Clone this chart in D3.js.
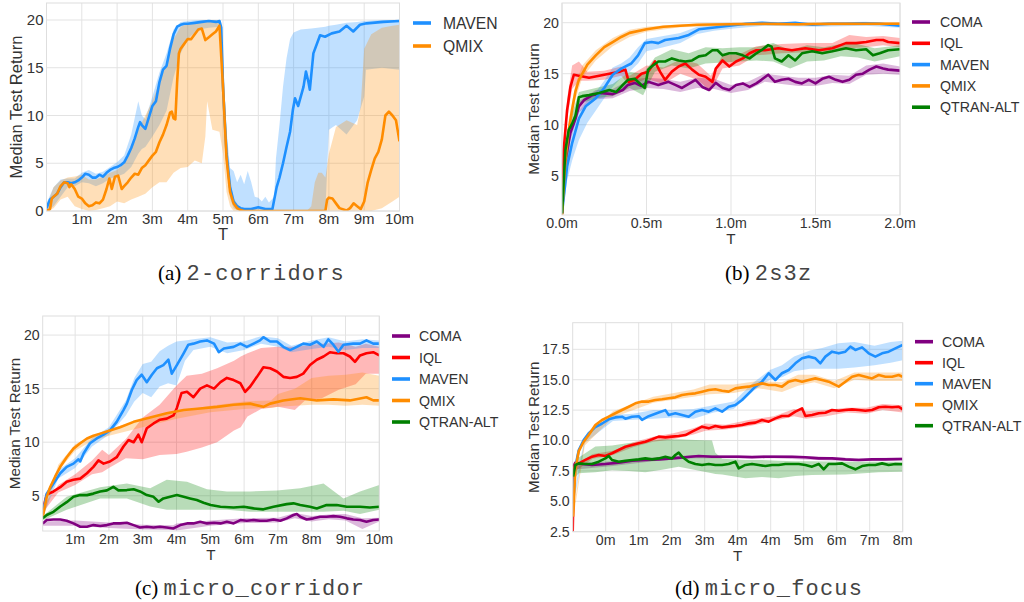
<!DOCTYPE html>
<html>
<head>
<meta charset="utf-8">
<script src="https://cdn.jsdelivr.net/npm/d3@7"></script>
<style>
  body { margin: 0; background: #fff; }
  svg { display: block; }
  text { font-family: "Liberation Sans", Arial, sans-serif; }
</style>
</head>
<body>
<svg width="1024" height="602"></svg>
<script>
// ---- data: [T in millions, median] and bands [T, low, high] ----

// (a) 2-corridors
const corrMaven = [[0,0.3],[0.1,1.2],[0.2,1.5],[0.3,1.8],[0.4,2.5],[0.5,3.0],[0.6,3.0],[0.7,2.9],[0.8,3.0],[0.9,3.2],[1.0,3.5],[1.1,3.9],[1.2,3.8],[1.3,3.5],[1.4,3.5],[1.5,3.8],[1.6,3.6],[1.7,4.0],[1.8,4.3],[1.9,4.5],[2.0,4.6],[2.1,4.8],[2.2,5.1],[2.3,5.8],[2.4,6.6],[2.5,7.6],[2.6,8.8],[2.65,9.3],[2.7,9.0],[2.8,8.6],[2.9,9.8],[3.0,11.0],[3.1,11.5],[3.2,13.5],[3.3,14.8],[3.4,15.2],[3.5,17.0],[3.6,18.5],[3.7,19.3],[3.8,19.5],[3.9,19.6],[4.0,19.6],[4.2,19.7],[4.4,19.8],[4.6,19.9],[4.8,19.8],[4.9,19.9],[4.95,19.2],[5.0,13.0],[5.1,6.0],[5.2,2.5],[5.3,1.0],[5.4,0.5],[5.5,0.3],[5.6,0.2],[5.8,0.2],[6.0,0.4],[6.2,0.2],[6.4,0.2],[6.52,2.5],[6.6,3.5],[6.7,5.0],[6.8,6.7],[6.9,8.3],[6.98,10.6],[7.04,11.8],[7.13,11.0],[7.28,13.0],[7.35,14.6],[7.42,13.5],[7.46,12.7],[7.56,16.5],[7.75,18.4],[7.89,18.25],[8.08,18.6],[8.3,18.8],[8.5,19.4],[8.69,18.8],[8.88,19.5],[9.07,19.65],[9.54,19.8],[10.0,19.9]];
const corrMavenBand = [[0,0,0.8],[0.2,0.5,2.5],[0.4,1.5,3.3],[0.6,2.5,3.4],[0.8,2.6,3.4],[1.0,3.0,4.0],[1.2,2.9,4.3],[1.4,2.6,3.9],[1.6,2.9,4.1],[1.8,3.4,4.6],[2.0,3.6,5.1],[2.2,3.9,5.8],[2.4,4.6,8.0],[2.6,6.0,11.5],[2.7,6.5,10.0],[2.8,6.7,9.6],[3.0,7.8,12.0],[3.2,9.0,14.5],[3.4,10.5,16.5],[3.6,14.0,19.0],[3.8,16.5,19.8],[4.0,18.0,19.9],[4.3,19.0,20.0],[4.6,19.2,20.0],[4.9,19.3,20.0],[5.0,12.5,16.0],[5.1,4.5,8.5],[5.2,1.3,4.5],[5.3,0.3,4.2],[5.4,0.1,3.0],[5.5,0,3.8],[5.6,0,2.8],[5.7,0,4.2],[5.8,0,3.0],[5.9,0,1.5],[6.0,0,1.4],[6.1,0,1.0],[6.2,0,1.5],[6.3,0,0.9],[6.45,0,1.5],[6.5,0,5.5],[6.6,0,9.0],[6.7,0,13.0],[6.8,0,16.0],[6.9,0,18.0],[7.0,0,18.7],[7.2,0,19.0],[7.5,0,19.1],[7.9,0,19.3],[8.0,8.5,19.4],[8.2,9.0,19.5],[8.5,8.0,19.7],[8.8,9.5,19.8],[9.0,12.0,19.9],[9.05,14.8,19.9],[9.5,15.0,20.0],[10.0,14.8,20.0]];
const corrQmix = [[0,0],[0.1,0.2],[0.15,1.3],[0.2,1.5],[0.3,1.8],[0.4,2.6],[0.5,3.0],[0.6,2.9],[0.65,2.5],[0.7,2.8],[0.8,2.3],[0.9,1.5],[1.0,1.3],[1.1,0.8],[1.2,0.5],[1.3,0.6],[1.4,0.9],[1.5,0.8],[1.6,1.2],[1.7,2.3],[1.78,3.4],[1.85,2.3],[1.94,3.6],[2.03,3.7],[2.13,2.3],[2.2,2.6],[2.3,3.0],[2.4,3.5],[2.5,3.9],[2.6,3.8],[2.7,4.5],[2.8,4.8],[2.9,5.3],[3.0,5.8],[3.1,6.2],[3.2,7.2],[3.3,8.0],[3.4,9.0],[3.5,10.3],[3.55,10.4],[3.6,9.7],[3.65,9.6],[3.7,13.5],[3.75,16.5],[3.8,17.0],[3.9,17.5],[4.0,18.0],[4.1,18.0],[4.2,18.5],[4.3,19.0],[4.4,19.1],[4.5,17.9],[4.6,18.2],[4.7,18.5],[4.8,18.8],[4.9,19.4],[5.0,13.0],[5.1,5.5],[5.2,2.0],[5.3,0.8],[5.4,0.3],[5.5,0.1],[5.6,0],[7.9,0],[7.95,1.2],[8.0,1.4],[8.1,1.3],[8.2,0.8],[8.3,0.3],[8.5,0.05],[8.6,0.3],[8.7,0.8],[8.8,0.5],[8.9,0.2],[9.0,1.0],[9.1,3.0],[9.2,4.3],[9.3,5.5],[9.4,6.2],[9.5,7.5],[9.6,10.0],[9.7,10.4],[9.8,10.0],[9.9,9.5],[10.0,7.3]];
const corrQmixBand = [[0,0,0.5],[0.2,0.3,2.5],[0.4,1.2,3.2],[0.6,1.5,3.5],[0.8,0.5,3.6],[1.0,0.2,3.8],[1.2,0,3.3],[1.4,0.1,3.3],[1.6,0.3,3.6],[1.8,0.5,4.0],[2.0,1.0,4.3],[2.2,0.8,5.0],[2.4,1.2,6.5],[2.6,1.5,8.5],[2.8,1.8,10.0],[3.0,2.5,11.5],[3.2,3.0,13.5],[3.4,3.0,15.5],[3.6,4.0,18.0],[3.8,4.5,19.3],[4.0,4.6,19.6],[4.2,5.3,19.8],[4.4,5.0,19.9],[4.5,7.8,20.0],[4.55,11.5,20.0],[4.7,8.5,20.0],[4.9,8.3,19.9],[5.0,6.0,16.5],[5.1,2.0,8.0],[5.2,0.5,3.0],[5.3,0,1.3],[5.5,0,0.3],[6.0,0,0.1],[7.4,0,0.1],[7.5,0,0.5],[7.6,0,3.0],[7.7,0,4.0],[7.8,0,4.0],[7.9,0,3.5],[8.0,0,6.0],[8.2,0,8.8],[8.5,0,9.5],[8.8,0,9.0],[8.9,0,11.0],[9.0,0,17.0],[9.2,0,18.5],[9.5,0.3,19.2],[9.8,1.0,19.4],[10.0,1.5,19.5]];

// (b) 2s3z
const s3zComa = [[0,1.3],[0.02,6.5],[0.05,9.2],[0.08,10.6],[0.1,11.8],[0.13,12.4],[0.18,12.9],[0.24,13.1],[0.3,13.0],[0.36,13.4],[0.39,13.9],[0.43,14.1],[0.47,13.8],[0.51,14.2],[0.57,13.9],[0.63,14.2],[0.67,13.9],[0.71,13.6],[0.75,14.0],[0.79,14.4],[0.83,13.7],[0.87,13.4],[0.91,14.1],[0.95,13.6],[0.99,13.4],[1.03,13.9],[1.07,14.05],[1.11,13.7],[1.15,14.05],[1.18,14.4],[1.22,14.9],[1.26,14.2],[1.3,14.4],[1.34,14.5],[1.38,14.2],[1.42,14.05],[1.46,14.4],[1.5,14.05],[1.54,14.5],[1.58,14.7],[1.62,14.4],[1.66,14.2],[1.7,14.4],[1.74,14.9],[1.78,15.0],[1.82,15.4],[1.86,15.7],[1.9,15.5],[1.93,15.4],[2.0,15.3]];
const s3zComaBand = [[0,1.0,1.6],[0.05,8.5,9.8],[0.1,11.2,12.3],[0.2,12.5,13.4],[0.3,12.6,13.5],[0.4,13.3,14.4],[0.5,13.6,14.6],[0.6,13.5,14.5],[0.7,13.2,14.2],[0.8,13.6,14.6],[0.9,13.5,14.5],[1.0,13.1,13.9],[1.1,13.4,14.2],[1.2,14.2,15.0],[1.3,14.0,14.8],[1.4,13.8,14.6],[1.5,13.8,14.6],[1.6,14.1,14.9],[1.7,14.0,14.8],[1.8,14.9,15.8],[1.9,15.0,16.0],[2.0,14.9,15.7]];
const s3zIql = [[0,1.3],[0.01,7.5],[0.03,11.4],[0.05,13.7],[0.07,14.9],[0.1,14.8],[0.16,14.6],[0.22,14.8],[0.28,15.0],[0.34,15.2],[0.375,15.4],[0.395,14.2],[0.43,14.4],[0.47,15.0],[0.51,15.2],[0.55,16.2],[0.58,15.2],[0.61,14.4],[0.65,15.2],[0.69,15.7],[0.73,16.0],[0.77,15.4],[0.81,14.9],[0.85,14.7],[0.89,14.2],[0.91,15.5],[0.95,16.3],[0.99,15.7],[1.03,16.2],[1.07,16.5],[1.11,17.0],[1.15,17.3],[1.2,17.3],[1.28,17.5],[1.36,17.3],[1.44,17.5],[1.52,17.3],[1.6,17.5],[1.68,18.0],[1.74,18.0],[1.8,18.1],[1.86,18.3],[1.9,18.3],[1.93,18.1],[2.0,18.0]];
const s3zIqlBand = [[0,1.0,1.6],[0.03,10.5,12.5],[0.06,13.5,15.8],[0.1,14.3,16.2],[0.15,14.3,15.2],[0.25,14.4,15.3],[0.35,14.8,15.7],[0.4,13.8,14.8],[0.5,14.5,15.8],[0.6,14.0,15.6],[0.7,15.0,16.4],[0.8,14.4,16.0],[0.88,13.3,14.8],[0.95,15.5,16.8],[1.05,15.8,16.9],[1.15,16.8,17.7],[1.3,17.0,17.9],[1.45,17.1,18.0],[1.6,17.1,18.0],[1.7,17.5,18.8],[1.8,17.6,18.6],[1.9,17.8,18.7],[2.0,17.6,18.5]];
const s3zMaven = [[0,1.3],[0.03,5.9],[0.06,8.2],[0.1,10.6],[0.14,11.8],[0.2,12.6],[0.25,13.6],[0.3,14.9],[0.35,15.5],[0.41,16.0],[0.45,16.8],[0.49,18.0],[0.53,18.1],[0.57,18.0],[0.61,18.3],[0.69,18.5],[0.75,18.8],[0.81,19.35],[0.89,19.5],[0.99,19.7],[1.09,19.9],[1.18,20.0],[1.28,19.9],[1.38,20.0],[1.48,19.8],[1.58,19.9],[1.68,19.9],[1.78,19.95],[1.88,19.9],[2.0,19.7]];
const s3zMavenBand = [[0,1.0,1.6],[0.03,4.5,7.0],[0.06,6.5,9.2],[0.1,8.5,11.3],[0.15,10.2,12.4],[0.2,11.4,13.2],[0.25,12.6,14.3],[0.3,13.7,15.6],[0.35,14.6,16.0],[0.4,15.2,16.6],[0.45,16.0,17.6],[0.5,17.2,18.4],[0.6,17.6,18.7],[0.7,18.0,19.0],[0.8,18.9,19.6],[0.9,19.2,19.7],[1.0,19.4,19.9],[1.2,19.7,20.1],[1.5,19.6,20.0],[1.8,19.7,20.1],[2.0,19.5,19.9]];
const s3zQmix = [[0,1.1],[0.01,4.0],[0.02,6.5],[0.04,9.5],[0.06,11.5],[0.08,13.3],[0.1,14.4],[0.15,15.9],[0.2,16.8],[0.25,17.6],[0.3,18.1],[0.35,18.6],[0.4,19.0],[0.5,19.35],[0.6,19.6],[0.7,19.7],[0.8,19.8],[1.0,19.85],[1.2,19.9],[1.4,19.85],[1.6,19.9],[1.8,19.9],[2.0,19.9]];
const s3zQmixBand = [[0,0.9,1.3],[0.04,8.5,10.5],[0.08,12.5,14.0],[0.12,14.6,15.8],[0.2,16.3,17.3],[0.3,17.7,18.5],[0.4,18.6,19.3],[0.5,19.1,19.6],[0.7,19.55,19.85],[1.0,19.7,20.0],[1.5,19.7,20.0],[2.0,19.75,20.05]];
const s3zQtran = [[0,1.3],[0.02,7.5],[0.04,9.5],[0.06,10.1],[0.08,10.9],[0.1,12.7],[0.12,12.8],[0.16,12.9],[0.22,13.1],[0.28,13.4],[0.32,13.2],[0.36,13.9],[0.39,14.4],[0.43,14.5],[0.47,13.9],[0.49,13.6],[0.51,15.4],[0.53,15.7],[0.57,16.2],[0.61,16.2],[0.65,16.5],[0.69,16.3],[0.73,16.2],[0.77,16.3],[0.81,16.7],[0.85,16.8],[0.89,17.3],[0.92,17.3],[0.95,16.8],[0.99,17.0],[1.03,17.0],[1.07,16.8],[1.11,16.5],[1.15,17.0],[1.18,17.3],[1.22,17.8],[1.24,17.65],[1.26,16.5],[1.3,16.2],[1.34,16.8],[1.38,16.3],[1.42,17.0],[1.48,17.2],[1.54,17.0],[1.6,17.2],[1.68,17.5],[1.74,17.3],[1.8,17.4],[1.84,16.8],[1.88,17.0],[1.93,17.3],[2.0,17.4]];
const s3zQtranBand = [[0,1.0,1.6],[0.05,9.0,10.5],[0.1,12.0,13.2],[0.2,12.6,13.6],[0.3,12.8,14.0],[0.4,13.6,15.2],[0.48,12.9,15.0],[0.55,15.2,16.6],[0.65,15.8,17.4],[0.75,15.5,17.0],[0.85,16.0,17.6],[0.95,16.1,17.5],[1.05,16.2,17.6],[1.15,16.3,17.6],[1.25,16.2,18.0],[1.35,15.5,17.3],[1.45,16.2,17.8],[1.55,16.3,17.6],[1.65,16.7,17.9],[1.75,16.6,17.9],[1.85,16.2,17.5],[2.0,16.7,17.8]];

// (c) micro_corridor
const mcComa = [[0.04,2.4],[0.16,2.73],[0.36,2.79],[0.56,2.79],[0.75,2.67],[0.95,2.42],[1.15,2.11],[1.35,2.11],[1.54,2.26],[1.74,2.17],[1.94,2.26],[2.13,2.42],[2.33,2.42],[2.53,2.48],[2.73,2.26],[2.92,2.04],[3.12,2.11],[3.32,2.04],[3.51,2.11],[3.71,2.04],[3.91,1.95],[4.11,2.26],[4.31,2.42],[4.5,2.42],[4.7,2.57],[4.9,2.42],[5.11,2.48],[5.3,2.42],[5.49,2.57],[5.69,2.42],[5.89,2.73],[6.08,2.67],[6.28,2.73],[6.47,2.67],[6.67,2.67],[6.87,2.79],[7.07,2.67],[7.26,2.89],[7.46,3.2],[7.56,3.29],[7.66,3.04],[7.85,2.79],[8.05,2.89],[8.25,3.04],[8.44,3.04],[8.64,3.1],[8.84,3.04],[9.04,2.89],[9.23,2.79],[9.43,2.73],[9.62,2.57],[9.82,2.73],[10.0,2.79]];
const mcComaBand = [[0.04,2.2,2.6],[1.0,2.2,2.7],[2.0,2.0,2.5],[3.0,1.85,2.3],[3.9,1.8,2.25],[4.0,1.75,2.4],[5.0,2.2,2.7],[6.0,2.45,2.9],[7.0,2.5,2.95],[7.5,2.9,3.4],[8.0,2.6,3.1],[8.5,2.8,3.25],[9.0,2.7,3.3],[9.5,1.9,2.9],[10.0,2.6,2.95]];
const mcIql = [[0.04,3.7],[0.16,5.1],[0.36,5.4],[0.56,5.8],[0.75,6.3],[0.95,6.5],[1.15,6.6],[1.35,7.1],[1.54,7.7],[1.69,8.3],[1.84,8.0],[2.03,8.2],[2.23,8.6],[2.43,9.6],[2.58,10.2],[2.73,10.0],[2.87,10.7],[2.97,10.0],[3.12,11.3],[3.32,11.75],[3.51,12.1],[3.71,12.2],[3.91,12.5],[4.01,13.2],[4.15,14.6],[4.31,14.7],[4.5,14.2],[4.7,15.0],[4.9,15.3],[5.11,15.0],[5.3,15.6],[5.49,16.0],[5.69,15.8],[5.89,15.5],[6.03,14.7],[6.18,15.2],[6.38,16.1],[6.57,17.0],[6.77,16.9],[6.97,16.6],[7.16,16.1],[7.36,16.0],[7.56,16.1],[7.75,16.4],[7.95,17.2],[8.15,17.7],[8.35,18.0],[8.54,18.4],[8.74,18.3],[8.94,18.3],[9.13,18.0],[9.28,17.5],[9.43,18.1],[9.62,18.3],[9.82,18.4],[10.0,18.1]];
const mcIqlBand = [[0.04,3.4,4.0],[0.5,5.3,6.0],[1.0,6.0,7.0],[1.5,7.0,8.3],[1.8,7.2,9.3],[2.0,7.6,8.8],[2.5,8.5,10.3],[3.0,8.4,12.3],[3.5,8.8,13.5],[4.0,8.9,15.3],[4.3,9.1,16.2],[4.75,9.5,16.4],[5.2,10.0,16.9],[5.7,11.1,17.6],[5.9,11.4,18.0],[6.1,12.4,18.3],[6.5,13.1,18.8],[7.0,13.3,18.9],[7.5,13.0,18.9],[7.8,13.9,19.0],[8.3,14.1,19.2],[8.8,14.9,19.3],[9.3,15.4,18.9],[9.6,16.4,19.2],[10.0,16.4,18.9]];
const mcMaven = [[0.04,3.3],[0.16,5.2],[0.36,6.15],[0.56,7.1],[0.75,7.7],[0.95,8.0],[1.1,8.4],[1.15,8.2],[1.25,8.95],[1.44,9.9],[1.64,10.35],[1.84,10.7],[2.03,11.1],[2.23,11.9],[2.43,13.0],[2.53,13.6],[2.68,14.9],[2.82,15.8],[2.97,16.3],[3.12,15.6],[3.27,16.3],[3.42,16.9],[3.61,17.2],[3.76,17.7],[3.86,16.4],[4.01,17.2],[4.21,18.3],[4.35,19.1],[4.5,19.2],[4.7,19.4],[4.9,19.5],[5.11,19.2],[5.25,18.4],[5.4,18.75],[5.69,18.9],[5.89,19.2],[6.08,18.9],[6.28,19.2],[6.47,19.5],[6.57,19.8],[6.77,19.4],[6.97,19.4],[7.16,18.9],[7.36,18.6],[7.56,18.9],[7.75,19.2],[7.95,19.1],[8.15,19.4],[8.35,18.9],[8.49,19.6],[8.64,19.1],[8.79,18.45],[8.94,19.1],[9.23,19.2],[9.43,19.2],[9.62,19.5],[9.82,19.2],[10.0,19.2]];
const mcMavenBand = [[0.04,3.0,3.6],[0.5,6.6,7.4],[1.0,7.6,8.5],[1.5,9.6,10.4],[2.0,10.7,11.4],[2.5,12.5,13.9],[2.75,13.8,16.0],[3.0,14.6,17.3],[3.25,14.2,17.5],[3.5,15.2,18.5],[3.75,15.5,19.0],[4.0,15.3,19.4],[4.25,17.6,19.5],[4.5,18.6,19.6],[5.0,18.9,19.8],[5.5,18.3,19.3],[6.0,18.6,19.4],[6.5,19.2,19.9],[7.0,18.9,19.7],[7.4,18.4,19.0],[8.0,18.7,19.5],[8.5,18.9,19.8],[9.0,18.6,19.4],[9.5,18.8,19.6],[10.0,18.8,19.5]];
const mcQmix = [[0.04,3.0],[0.16,4.9],[0.26,5.8],[0.41,6.8],[0.56,7.7],[0.75,8.6],[0.95,9.4],[1.15,9.9],[1.35,10.35],[1.54,10.6],[1.74,10.8],[2.03,11.1],[2.33,11.4],[2.73,11.9],[3.22,12.3],[3.71,12.7],[4.21,13.0],[4.7,13.15],[5.2,13.3],[5.69,13.5],[6.18,13.6],[6.57,13.3],[6.77,13.6],[7.16,13.9],[7.66,14.1],[8.15,13.9],[8.64,14.0],[9.13,13.9],[9.62,14.2],[9.82,13.9],[10.0,13.9]];
const mcQmixBand = [[0.04,2.8,3.2],[0.5,7.3,7.9],[1.0,9.2,9.8],[1.5,10.1,10.6],[2.0,10.6,11.2],[3.0,11.4,12.2],[4.0,12.2,12.9],[5.0,12.8,13.4],[6.0,13.1,13.8],[6.8,13.2,13.9],[7.0,13.3,14.5],[7.5,13.4,15.0],[8.0,13.5,16.0],[8.5,13.5,16.2],[9.0,13.4,16.3],[9.5,13.5,16.5],[10.0,13.4,16.2]];
const mcQtran = [[0.04,2.9],[0.16,3.2],[0.36,3.5],[0.56,4.0],[0.75,4.4],[0.95,4.9],[1.15,5.06],[1.35,5.06],[1.54,5.2],[1.74,5.4],[1.94,5.5],[2.13,5.84],[2.28,5.5],[2.53,5.53],[2.73,5.6],[2.92,5.4],[3.12,5.06],[3.32,4.9],[3.47,4.44],[3.61,4.75],[3.81,4.9],[4.01,5.06],[4.21,4.9],[4.4,4.75],[4.6,4.6],[4.8,4.35],[5.01,4.13],[5.3,3.97],[5.69,3.91],[5.99,3.97],[6.28,3.82],[6.57,3.73],[6.87,3.97],[7.26,4.22],[7.46,4.29],[7.66,4.13],[7.95,3.97],[8.15,3.82],[8.44,4.13],[8.74,4.13],[9.04,3.97],[9.43,3.97],[9.72,3.91],[10.0,3.97]];
const mcQtranBand = [[0.04,2.7,3.1],[0.75,3.7,4.9],[1.74,4.75,5.8],[2.53,4.75,6.15],[3.22,4.0,5.7],[3.71,3.7,6.5],[4.31,3.7,6.3],[4.9,3.7,5.6],[5.49,3.7,5.4],[6.18,3.5,5.4],[6.97,3.5,5.5],[7.66,3.5,5.7],[8.35,3.5,6.15],[8.94,3.6,4.75],[9.43,3.3,5.4],[10.0,3.7,6.0]];

// (d) micro_focus
const mfComa = [[0.01,7.85],[0.066,8.18],[0.232,8.07],[0.48,7.99],[0.812,8.07],[1.143,8.18],[1.474,8.34],[1.806,8.4],[2.137,8.45],[2.468,8.53],[2.8,8.62],[3.131,8.73],[3.462,8.67],[3.794,8.67],[4.125,8.67],[4.456,8.62],[4.787,8.67],[5.119,8.67],[5.45,8.67],[5.782,8.62],[6.113,8.53],[6.444,8.53],[6.775,8.45],[7.107,8.4],[7.438,8.45],[7.769,8.45],[8.2,8.48]];
const mfComaBand = [[0.01,7.6,8.1],[1.0,7.9,8.3],[2.0,8.3,8.6],[3.0,8.55,8.8],[4.0,8.55,8.8],[5.0,8.55,8.8],[6.0,8.4,8.7],[7.0,8.3,8.55],[8.2,8.35,8.6]];
const mfIql = [[0.0,2.5],[0.03,7.6],[0.066,8.12],[0.149,8.12],[0.315,8.4],[0.48,8.67],[0.646,8.81],[0.812,8.73],[0.977,8.95],[1.143,9.22],[1.309,9.49],[1.474,9.63],[1.64,9.77],[1.806,9.9],[1.971,10.1],[2.137,10.32],[2.303,10.26],[2.468,10.32],[2.634,10.37],[2.8,10.45],[2.965,10.73],[3.131,11.0],[3.214,11.14],[3.38,11.0],[3.545,11.19],[3.711,11.08],[3.876,11.14],[4.042,11.19],[4.208,11.28],[4.373,11.41],[4.539,11.47],[4.704,11.69],[4.87,11.55],[5.036,11.82],[5.2,12.02],[5.367,12.02],[5.533,12.37],[5.699,12.65],[5.782,12.02],[5.947,12.1],[6.113,12.24],[6.279,12.29],[6.444,12.51],[6.61,12.45],[6.775,12.51],[6.941,12.56],[7.107,12.51],[7.272,12.45],[7.438,12.51],[7.604,12.73],[7.769,12.78],[7.935,12.73],[8.1,12.78],[8.2,12.56]];
const mfIqlBand = [[0.03,7.4,7.9],[0.5,8.5,8.9],[1.0,8.8,9.15],[1.5,9.45,9.85],[2.0,9.9,10.3],[2.5,10.1,10.6],[3.0,10.5,11.0],[3.3,10.8,11.4],[3.8,10.9,11.3],[4.4,11.2,11.7],[5.0,11.6,12.0],[5.5,12.0,12.6],[5.8,11.8,12.4],[6.3,12.0,12.5],[6.8,12.3,12.7],[7.3,12.2,12.7],[7.7,12.5,13.0],[8.2,12.3,12.9]];
const mfMaven = [[0.01,4.8],[0.066,7.85],[0.149,9.2],[0.273,10.04],[0.398,10.6],[0.563,11.1],[0.729,11.4],[0.895,11.74],[1.06,11.9],[1.226,11.96],[1.309,11.8],[1.474,11.96],[1.64,12.0],[1.723,11.7],[1.889,12.0],[2.137,12.3],[2.303,12.5],[2.386,12.1],[2.551,12.24],[2.717,12.1],[2.882,11.96],[3.048,12.37],[3.214,12.51],[3.38,12.37],[3.545,12.65],[3.711,12.37],[3.876,12.78],[4.042,12.92],[4.208,13.33],[4.373,13.88],[4.539,14.43],[4.704,14.84],[4.87,15.53],[5.036,14.98],[5.2,15.53],[5.367,15.8],[5.533,16.35],[5.699,16.76],[5.864,16.9],[6.03,16.76],[6.154,16.35],[6.279,16.9],[6.444,17.31],[6.61,17.17],[6.775,17.31],[6.9,17.72],[7.024,17.45],[7.19,17.66],[7.355,17.17],[7.521,16.9],[7.687,17.17],[7.852,17.31],[8.018,17.58],[8.2,17.86]];
const mfMavenBand = [[0.01,4.5,5.2],[0.3,9.8,10.3],[1.0,11.6,12.1],[1.5,11.7,12.2],[2.0,11.8,12.5],[2.5,11.9,12.5],[3.0,11.8,12.6],[3.5,12.3,12.9],[4.0,12.6,13.2],[4.5,14.1,14.8],[4.9,15.0,15.8],[5.2,15.2,16.2],[5.5,15.7,16.9],[5.9,15.9,17.4],[6.2,15.9,17.6],[6.6,15.9,18.0],[7.0,16.0,18.1],[7.5,16.2,17.8],[7.9,16.4,18.1],[8.2,16.6,18.2]];
const mfQmix = [[0.01,3.74],[0.066,7.6],[0.149,9.1],[0.273,9.9],[0.398,10.45],[0.563,11.28],[0.729,11.69],[0.895,11.96],[1.06,12.24],[1.226,12.51],[1.392,12.78],[1.557,13.06],[1.723,13.2],[1.889,13.2],[2.054,13.33],[2.22,13.39],[2.386,13.47],[2.551,13.55],[2.717,13.74],[2.882,13.83],[3.048,13.88],[3.214,14.02],[3.38,14.15],[3.545,14.21],[3.711,14.1],[3.876,14.02],[4.042,14.29],[4.208,14.37],[4.373,14.43],[4.539,14.57],[4.704,14.7],[4.87,14.57],[5.036,14.57],[5.2,14.43],[5.367,14.84],[5.533,14.98],[5.699,14.84],[5.864,14.98],[6.03,15.11],[6.196,14.98],[6.361,14.84],[6.527,14.57],[6.61,14.43],[6.775,14.84],[6.941,15.25],[7.107,15.39],[7.272,15.25],[7.438,15.11],[7.604,15.39],[7.769,15.25],[7.935,15.25],[8.1,15.39],[8.2,15.25]];
const mfQmixBand = [[0.01,3.5,4.0],[0.3,9.6,10.2],[1.0,11.9,12.4],[2.0,13.1,13.6],[3.0,13.6,14.2],[3.4,13.8,14.6],[4.0,13.9,14.6],[4.6,14.3,14.9],[5.2,14.0,14.8],[5.6,14.5,15.4],[6.0,14.8,15.4],[6.5,14.3,14.9],[7.0,15.0,15.6],[7.5,14.9,15.6],[8.2,14.9,15.6]];
const mfQtran = [[0.01,7.03],[0.066,7.99],[0.149,8.12],[0.315,8.07],[0.48,8.07],[0.646,8.26],[0.812,8.53],[0.895,8.73],[0.977,8.4],[1.143,8.26],[1.309,8.34],[1.474,8.4],[1.64,8.45],[1.806,8.53],[1.971,8.45],[2.137,8.53],[2.303,8.67],[2.468,8.53],[2.551,8.81],[2.634,9.0],[2.717,8.67],[2.882,8.26],[3.048,8.07],[3.214,7.99],[3.38,8.07],[3.545,7.99],[3.711,7.99],[3.876,8.07],[4.042,8.26],[4.125,7.71],[4.29,7.99],[4.456,8.07],[4.622,7.99],[4.787,7.9],[4.953,7.99],[5.119,7.99],[5.284,8.07],[5.45,8.07],[5.616,8.07],[5.782,7.99],[5.947,7.85],[6.113,8.07],[6.237,7.63],[6.361,8.07],[6.527,8.07],[6.693,8.12],[6.858,7.85],[7.024,7.63],[7.19,7.9],[7.355,7.99],[7.521,7.99],[7.687,8.12],[7.852,7.99],[8.018,8.07],[8.2,8.05]];
const mfQtranBand = [[0.01,6.8,7.3],[0.15,7.3,8.6],[0.563,7.4,9.5],[0.977,7.56,9.6],[1.392,7.5,9.8],[1.806,7.4,9.9],[2.22,7.6,10.1],[2.634,7.85,10.1],[3.048,7.57,10.05],[3.462,7.3,10.0],[3.545,7.25,9.0],[3.711,7.2,8.5],[4.29,6.9,8.4],[4.704,7.0,8.4],[5.119,6.9,8.34],[5.533,7.08,8.3],[5.947,7.16,8.3],[6.775,7.2,8.26],[7.604,7.4,8.26],[8.2,7.44,8.26]];

// tick values and labels
const ticksTenM = [1, 2, 3, 4, 5, 6, 7, 8, 9, 10];
const ticksTwoM = [0, 0.5, 1.0, 1.5, 2.0];
const ticksFocus = [0.82, 1.64, 2.46, 3.28, 4.10, 4.92, 5.74, 6.56, 7.38, 8.2];
const labelsFocus = ["0m", "1m", "2m", "3m", "4m", "4m", "5m", "6m", "7m", "8m"];
const yTicksCorr = [0, 5, 10, 15, 20];
const yTicksHigh = [5, 10, 15, 20];
const yTicksFocus = [2.5, 5.0, 7.5, 10.0, 12.5, 15.0, 17.5];

const colors = {
  "COMA": "#800080",
  "IQL": "#ff0000",
  "MAVEN": "#1e90ff",
  "QMIX": "#ff8c00",
  "QTRAN-ALT": "#008000"
};

// fonts: panel (a) was scaled up a little in the source figure
const fontsA = { tick: 15, legend: 15.7, label: 16.5 };
const fontsB = { tick: 14.2, legend: 14.2, label: 15.2 };

const panels = [
  {
    id: "a", box: { l: 46.5, r: 399.5, t: 3, b: 211 },
    xDomain: [0, 10], yDomain: [0, 21.78],
    xTicks: ticksTenM, xFmt: d => d + "m",
    yTicks: yTicksCorr, yFmt: d => d,
    yLabelX: 21.5, fonts: fontsA,
    legend: { lineX: 413, textX: 443, y: 23, dy: 23 },
    caption: { x: 158, y: 280, tag: "(a)", name: "2-corridors" },
    series: [
      { name: "MAVEN", line: corrMaven, band: corrMavenBand },
      { name: "QMIX", line: corrQmix, band: corrQmixBand }
    ]
  },
  {
    id: "b", box: { l: 562, r: 900, t: 3, b: 215 },
    xDomain: [0, 2], yDomain: [1.15, 21.93],
    xTicks: ticksTwoM, xFmt: d => d3.format(".1f")(d) + "m",
    yTicks: yTicksHigh, yFmt: d => d,
    yLabelX: 539, fonts: fontsB,
    legend: { lineX: 912, textX: 940, y: 22, dy: 21.3 },
    caption: { x: 725, y: 280, tag: "(b)", name: "2s3z" },
    series: [
      { name: "COMA", line: s3zComa, band: s3zComaBand },
      { name: "IQL", line: s3zIql, band: s3zIqlBand },
      { name: "MAVEN", line: s3zMaven, band: s3zMavenBand },
      { name: "QMIX", line: s3zQmix, band: s3zQmixBand },
      { name: "QTRAN-ALT", line: s3zQtran, band: s3zQtranBand }
    ]
  },
  {
    id: "c", box: { l: 42.7, r: 379.3, t: 316, b: 531 },
    xDomain: [0.04, 10], yDomain: [1.71, 21.78],
    xTicks: ticksTenM, xFmt: d => d + "m",
    yTicks: yTicksHigh, yFmt: d => d,
    yLabelX: 19.5, fonts: fontsB,
    legend: { lineX: 392, textX: 419, y: 336, dy: 21.5 },
    caption: { x: 135, y: 595, tag: "(c)", name: "micro_corridor" },
    series: [
      { name: "COMA", line: mcComa, band: mcComaBand },
      { name: "IQL", line: mcIql, band: mcIqlBand },
      { name: "MAVEN", line: mcMaven, band: mcMavenBand },
      { name: "QMIX", line: mcQmix, band: mcQmixBand },
      { name: "QTRAN-ALT", line: mcQtran, band: mcQtranBand }
    ]
  },
  {
    id: "d", box: { l: 572.7, r: 902.7, t: 322.7, b: 531.7 },
    xDomain: [0, 8.2], yDomain: [2.5, 19.69],
    xTicks: ticksFocus, xFmt: (d, i) => labelsFocus[i],
    yTicks: yTicksFocus, yFmt: d => d3.format(".1f")(d),
    yLabelX: 539, fonts: fontsB,
    legend: { lineX: 915, textX: 942, y: 341.7, dy: 21 },
    caption: { x: 675, y: 595, tag: "(d)", name: "micro_focus" },
    series: [
      { name: "COMA", line: mfComa, band: mfComaBand },
      { name: "IQL", line: mfIql, band: mfIqlBand },
      { name: "MAVEN", line: mfMaven, band: mfMavenBand },
      { name: "QMIX", line: mfQmix, band: mfQmixBand },
      { name: "QTRAN-ALT", line: mfQtran, band: mfQtranBand }
    ]
  }
];

const svg = d3.select("svg");

panels.forEach(p => {
  const { l, r, t, b } = p.box;
  const f = p.fonts;
  const x = d3.scaleLinear().domain(p.xDomain).range([l, r]);
  const y = d3.scaleLinear().domain(p.yDomain).range([b, t]);
  const g = svg.append("g");

  g.append("clipPath").attr("id", "clip-" + p.id)
    .append("rect").attr("x", l).attr("y", t).attr("width", r - l).attr("height", b - t);

  // grid
  g.selectAll(".vgrid").data(p.xTicks).enter().append("line")
    .attr("x1", d => x(d)).attr("x2", d => x(d))
    .attr("y1", t).attr("y2", b)
    .attr("stroke", "#e3e3e3").attr("stroke-width", 1);
  g.selectAll(".hgrid").data(p.yTicks).enter().append("line")
    .attr("x1", l).attr("x2", r)
    .attr("y1", d => y(d)).attr("y2", d => y(d))
    .attr("stroke", "#e3e3e3").attr("stroke-width", 1);

  const plot = g.append("g").attr("clip-path", `url(#clip-${p.id})`);

  const area = d3.area()
    .x(d => x(d[0])).y0(d => y(d[1])).y1(d => y(d[2]));
  const line = d3.line()
    .x(d => x(d[0])).y(d => y(d[1]));

  p.series.forEach(s => {
    plot.append("path").attr("d", area(s.band))
      .attr("fill", colors[s.name]).attr("fill-opacity", 0.28);
  });
  p.series.forEach(s => {
    plot.append("path").attr("d", line(s.line))
      .attr("fill", "none").attr("stroke", colors[s.name])
      .attr("stroke-width", 2.6).attr("stroke-linejoin", "round");
  });

  // frame
  g.append("rect").attr("x", l).attr("y", t).attr("width", r - l).attr("height", b - t)
    .attr("fill", "none").attr("stroke", "#dedede").attr("stroke-width", 1);

  // tick labels
  g.selectAll(".xt").data(p.xTicks).enter().append("text")
    .attr("x", d => x(d)).attr("y", b + 12.8)
    .attr("text-anchor", "middle").attr("font-size", f.tick).attr("fill", "#333")
    .text((d, i) => p.xFmt(d, i));
  g.selectAll(".yt").data(p.yTicks).enter().append("text")
    .attr("x", l - 3).attr("y", d => y(d)).attr("dy", "0.35em")
    .attr("text-anchor", "end").attr("font-size", f.tick).attr("fill", "#333")
    .text(d => p.yFmt(d));

  // axis titles
  g.append("text").attr("x", (l + r) / 2).attr("y", b + 29)
    .attr("text-anchor", "middle").attr("font-size", f.label).attr("fill", "#333").text("T");
  g.append("text")
    .attr("transform", `translate(${p.yLabelX},${(t + b) / 2}) rotate(-90)`)
    .attr("text-anchor", "middle").attr("font-size", f.label).attr("fill", "#333")
    .text("Median Test Return");

  // legend
  const lg = g.selectAll(".leg").data(p.series).enter().append("g")
    .attr("transform", (d, i) => `translate(0,${p.legend.y + i * p.legend.dy})`);
  lg.append("line").attr("x1", p.legend.lineX).attr("x2", p.legend.lineX + 18)
    .attr("stroke", d => colors[d.name]).attr("stroke-width", 3.6);
  lg.append("text").attr("x", p.legend.textX).attr("dy", "0.36em")
    .attr("font-size", f.legend).attr("fill", "#333").text(d => d.name);

  // caption
  const cap = svg.append("text").attr("x", p.caption.x).attr("y", p.caption.y).attr("fill", "#000");
  cap.append("tspan").attr("font-family", "'Liberation Serif', 'Times New Roman', serif")
    .attr("font-size", 21).text(p.caption.tag + " ");
  cap.append("tspan").attr("font-family", "'Liberation Mono', 'Courier New', monospace")
    .attr("font-size", 22).attr("letter-spacing", 1.2).attr("fill", "#444")
    .text(p.caption.name);
});
</script>
</body>
</html>
